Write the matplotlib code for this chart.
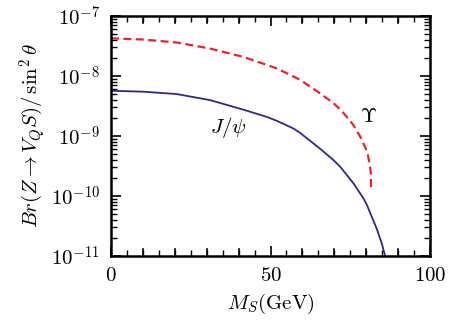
import numpy as np
import matplotlib
matplotlib.use("Agg")
import matplotlib.pyplot as plt
from matplotlib.ticker import MultipleLocator, LogLocator, NullFormatter

plt.rcParams['mathtext.fontset'] = 'cm'
plt.rcParams['font.family'] = 'serif'

# values (M_S in GeV, log10 of branching ratio)
ms_jpsi = [0, 10.1, 20.6, 31.0, 41.5, 48.8, 51.9, 57.2, 59.2, 65.5, 69.7, 71.8,
           76.0, 79.1, 80.2, 83.3, 84.9, 85.9]
logbr_jpsi = [-8.245, -8.26, -8.30, -8.40, -8.56, -8.68, -8.745, -8.875, -8.945, -9.21, -9.40, -9.51,
              -9.79, -10.04, -10.15, -10.55, -10.8, -11.0]

ms_ups = [0, 10.1, 20.6, 31.0, 41.5, 51.9, 59.2, 64.5, 69.7, 72.3, 76.0,
          78.1, 79.6, 80.4, 81.2, 81.4, 81.5]
logbr_ups = [-7.37, -7.39, -7.44, -7.54, -7.68, -7.87, -8.06, -8.25, -8.45, -8.58, -8.82,
             -9.01, -9.18, -9.29, -9.51, -9.62, -9.88]

fig = plt.figure(figsize=(4.49, 3.29), dpi=100)
ax = fig.add_axes([0.247, 0.222, 0.711, 0.729])

ax.plot(ms_jpsi, 10 ** np.array(logbr_jpsi), color='#2a2a8c', lw=1.3)
ax.plot(ms_ups, 10 ** np.array(logbr_ups), color='#f0202a', lw=1.6, dashes=(3.6, 2.0))

ax.set_yscale('log')
ax.set_xlim(0, 100)
ax.set_ylim(1e-11, 1e-7)

ax.set_xticks([0, 50, 100], ['$0$', '$50$', '$100$'])
ax.xaxis.set_minor_locator(MultipleLocator(5))
ax.set_yticks([1e-11, 1e-10, 1e-9, 1e-8, 1e-7],
              ['$10^{-11}$', '$10^{-10}$', '$10^{-9}$', '$10^{-8}$', '$10^{-7}$'])
ax.yaxis.set_minor_locator(LogLocator(base=10, subs=np.arange(2, 10)))
ax.yaxis.set_minor_formatter(NullFormatter())

# unlabeled long ticks every 10 on x
for x in range(10, 100, 10):
    if x != 50:
        ax.axvline(x, ymin=0, ymax=0.028, color='k', lw=1.2)
        ax.axvline(x, ymin=0.972, ymax=1, color='k', lw=1.2)

ax.tick_params(which='both', direction='in', top=True, right=True, labelsize=15)
ax.tick_params(axis='x', pad=7)
ax.tick_params(axis='y', pad=8)
ax.tick_params(which='major', length=7, width=1.2)
ax.tick_params(which='minor', length=4, width=1.0)
for s in ax.spines.values():
    s.set_linewidth(1.8)

ax.text(36.7, 10 ** -8.85, r'$J/\psi$', fontsize=15, ha='center', va='center')
ax.text(80.7, 10 ** -8.67, r'$\Upsilon$', fontsize=15, ha='center', va='center')

ax.set_xlabel(r'$M_S(\mathrm{GeV})$', fontsize=15, labelpad=5)
ax.set_ylabel(r'$Br(Z\rightarrow V_Q S)/\,\sin^2\theta$', fontsize=15, labelpad=2)

fig.savefig('out.png', dpi=100)
